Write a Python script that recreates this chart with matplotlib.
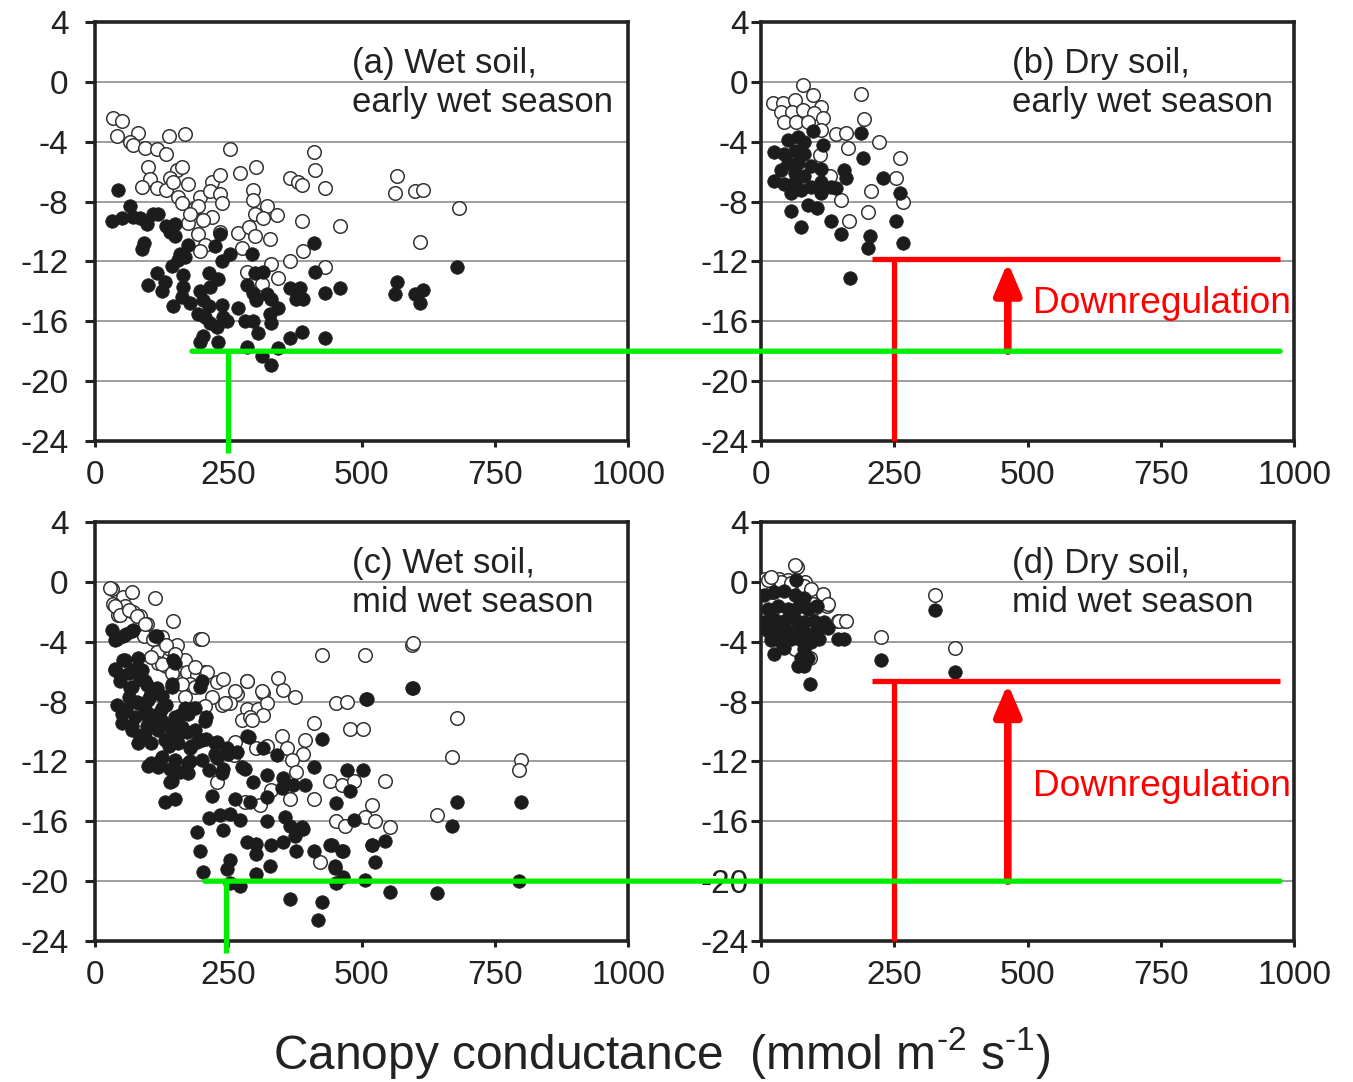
import numpy as np
import matplotlib
matplotlib.use("Agg")
import matplotlib.pyplot as plt
from matplotlib.patches import ConnectionPatch

# ----------------------------
# Data: canopy conductance (x) vs leaf water potential-like quantity (y)
# ----------------------------
a_open_x = [33, 50, 42, 81, 139, 169, 66, 72, 94, 116, 133, 253, 410, 100, 153, 163, 141, 103, 88, 116,
            133, 147, 175, 156, 163, 197, 188, 175, 194, 219, 235, 216, 235, 238, 272, 303, 366, 381, 388, 413,
            431, 297, 297, 300, 322, 341, 316, 388, 460, 194, 206, 197, 235, 269, 288, 300, 328, 275, 391, 366,
            431, 285, 331, 313, 344, 566, 563, 600, 616, 682, 610, 219, 203, 178]
a_open_y = [-2.4, -2.6, -3.6, -3.4, -3.6, -3.5, -4.0, -4.2, -4.4, -4.5, -4.8, -4.5, -4.7, -5.7, -5.9, -5.7, -6.4, -6.5, -7.0, -7.1,
            -7.2, -6.7, -6.8, -7.7, -8.1, -7.7, -8.4, -9.4, -8.3, -6.7, -6.2, -7.3, -7.5, -8.1, -6.1, -5.7, -6.4, -6.7, -6.9, -5.9,
            -7.1, -7.2, -7.9, -8.8, -8.3, -8.9, -9.1, -9.3, -9.6, -10.2, -10.9, -11.3, -10.0, -10.1, -9.7, -10.3, -10.5, -11.1, -11.3, -12.0,
            -12.4, -12.7, -12.2, -13.5, -13.1, -6.3, -7.4, -7.3, -7.2, -8.4, -10.7, -9.0, -9.2, -8.8]
a_fill_x = [44, 66, 31, 50, 72, 84, 97, 109, 119, 134, 150, 141, 150, 91, 88, 175, 159, 156, 169, 144,
            116, 100, 131, 125, 147, 166, 166, 163, 178, 197, 203, 213, 231, 235, 225, 253, 238, 216, 213, 194,
            206, 216, 228, 241, 247, 238, 269, 285, 297, 300, 316, 294, 303, 322, 331, 281, 297, 306, 328, 331,
            344, 366, 385, 378, 391, 410, 413, 431, 460, 388, 366, 431, 203, 197, 231, 285, 344, 313, 331, 566,
            562, 600, 616, 610, 679]
a_fill_y = [-7.2, -8.3, -9.3, -9.1, -9.0, -9.1, -9.5, -8.8, -8.8, -9.6, -9.5, -10.0, -10.3, -10.8, -11.2, -10.9, -11.5, -11.9, -11.7, -12.3,
            -12.8, -13.6, -13.4, -14.0, -15.0, -12.9, -13.7, -14.4, -14.8, -14.0, -14.6, -12.8, -13.2, -10.2, -11.0, -11.5, -12.0, -13.7, -15.0, -15.5,
            -15.7, -16.1, -16.4, -15.7, -16.0, -14.9, -15.1, -13.6, -14.1, -12.8, -12.7, -11.5, -14.6, -14.2, -14.5, -16.0, -16.0, -16.8, -15.5, -16.1,
            -15.1, -13.8, -13.8, -14.5, -14.5, -10.8, -12.7, -14.1, -13.8, -16.7, -17.1, -17.1, -17.0, -17.4, -17.4, -17.7, -17.8, -18.3, -18.9, -13.4,
            -14.2, -14.2, -13.9, -14.8, -12.4]

b_open_x = [78, 97, 188, 22, 41, 63, 113, 38, 59, 78, 100, 44, 66, 88, 116, 194, 113, 141, 159, 163,
            222, 150, 206, 200, 166, 261, 254, 267, 111, 129]
b_open_y = [-0.2, -0.9, -0.8, -1.4, -1.4, -1.2, -1.7, -2.0, -2.0, -1.9, -2.1, -2.7, -2.7, -2.7, -2.4, -2.5, -3.2, -3.5, -3.4, -4.4,
            -4.0, -7.9, -7.3, -8.7, -9.3, -5.1, -6.4, -8.0, -4.9, -6.3]
b_fill_x = [50, 69, 81, 97, 116, 25, 44, 63, 81, 50, 69, 94, 113, 38, 63, 81, 25, 44, 63, 94,
            113, 131, 156, 159, 56, 75, 113, 141, 188, 191, 56, 88, 106, 75, 131, 229, 261, 151, 204, 201,
            254, 267, 167]
b_fill_y = [-3.9, -3.7, -4.0, -3.3, -4.2, -4.7, -4.8, -4.6, -4.8, -5.4, -5.4, -5.6, -5.8, -5.9, -6.1, -6.3, -6.6, -6.8, -6.7, -7.0,
            -6.7, -7.0, -5.9, -6.4, -7.4, -7.2, -7.4, -7.1, -3.4, -5.1, -8.6, -8.2, -8.4, -9.7, -9.3, -6.4, -7.4, -10.2, -10.3, -11.1,
            -9.3, -10.8, -13.1]

c_open_x = [31, 53, 69, 113, 34, 56, 44, 72, 84, 97, 147, 91, 109, 125, 141, 153, 197, 116, 119, 134,
            153, 169, 172, 191, 206, 178, 228, 241, 285, 344, 316, 353, 375, 266, 253, 238, 285, 306, 322, 275,
            291, 316, 410, 425, 507, 594, 453, 472, 478, 503, 350, 394, 360, 391, 369, 263, 303, 322, 378, 441,
            463, 485, 544, 331, 366, 410, 519, 507, 525, 553, 453, 469, 422, 641, 228, 260, 281, 310, 679, 669,
            799, 795, 597,
            28, 38, 47, 63, 78, 94, 200, 134, 150, 125, 188, 210, 144, 163, 188, 285, 263, 313, 219, 244,
            294, 206, 169, 106]
c_open_y = [-0.5, -1.0, -0.7, -1.1, -1.5, -1.6, -2.2, -2.0, -2.3, -2.8, -2.6, -3.6, -3.8, -3.7, -4.5, -4.2, -3.8, -4.7, -5.4, -5.6,
            -5.8, -5.2, -6.0, -6.2, -6.0, -6.8, -6.7, -6.5, -6.6, -6.4, -7.4, -7.2, -7.7, -7.5, -8.1, -8.2, -8.5, -8.5, -8.1, -9.2,
            -9.0, -8.9, -9.4, -4.9, -4.9, -4.2, -8.1, -8.0, -9.8, -9.8, -10.3, -10.6, -11.1, -11.5, -11.9, -10.7, -11.1, -11.0, -12.7, -13.3,
            -13.6, -13.3, -13.3, -13.9, -14.5, -14.5, -14.9, -15.7, -16.0, -16.4, -16.0, -16.3, -18.7, -15.6, -13.4, -11.6, -14.7, -14.9, -9.1, -11.7,
            -11.9, -12.6, -4.1,
            -0.4, -1.6, -2.2, -1.9, -2.3, -2.8, -3.8, -4.2, -4.8, -5.5, -5.7, -6.0, -6.1, -6.8, -7.0, -6.6, -7.3, -7.3, -7.7, -8.1,
            -9.2, -8.3, -7.7, -5.0]
c_fill_x = [31, 41, 53, 72, 116, 37, 47, 53, 75, 84, 97, 66, 103, 116, 41, 59, 78, 94, 106, 122,
            134, 144, 147, 125, 50, 69, 84, 97, 116, 141, 159, 178, 197, 209, 153, 172, 191, 178, 209, 228,
            247, 266, 228, 241, 100, 122, 141, 159, 178, 141, 131, 150, 219, 263, 285, 281, 297, 291, 322, 322,
            353, 372, 394, 350, 341, 316, 410, 425, 472, 503, 478, 453, 485, 510, 594, 213, 234, 253, 272, 241,
            191, 197, 203, 253, 247, 285, 303, 303, 303, 331, 353, 328, 272, 375, 388, 378, 410, 441, 466, 450,
            453, 507, 519, 544, 525, 553, 641, 366, 425, 419, 253, 322, 356, 366, 391, 597, 508, 679, 799, 669,
            444, 463, 519, 450, 466, 795,
            38, 59, 69, 113, 56, 81, 38, 63, 88, 47, 69, 94, 106, 63, 81, 100, 125, 144, 150, 50,
            75, 100, 125, 150, 175, 188, 69, 94, 119, 144, 163, 188, 206, 81, 106, 131, 156, 181, 200, 225,
            106, 125, 150, 175, 200, 225, 250, 144, 175, 213, 238, 200, 169, 138, 119, 288, 275]
c_fill_y = [-3.2, -3.8, -3.6, -3.2, -3.6, -5.8, -6.2, -5.2, -5.8, -6.5, -6.9, -7.1, -7.6, -7.1, -8.2, -8.5, -8.0, -8.5, -8.9, -8.7,
            -8.2, -6.8, -5.2, -7.6, -9.4, -9.6, -10.3, -9.6, -9.4, -9.6, -8.9, -8.5, -7.0, -9.0, -10.3, -10.0, -10.7, -11.1, -10.5, -10.7,
            -11.1, -11.4, -11.8, -12.5, -12.3, -12.0, -12.5, -12.7, -12.0, -13.4, -14.7, -14.5, -14.3, -14.5, -10.3, -12.5, -13.4, -14.7, -14.4, -12.9,
            -13.1, -13.6, -13.6, -13.8, -11.6, -11.1, -12.4, -10.5, -12.6, -12.6, -14.0, -14.8, -15.9, -7.8, -7.1, -15.8, -15.6, -15.5, -15.9, -16.6,
            -16.7, -18.0, -19.4, -18.6, -19.2, -17.4, -17.5, -18.2, -19.5, -17.6, -17.4, -19.0, -20.3, -17.0, -16.4, -18.0, -18.0, -17.6, -18.0, -19.0,
            -20.1, -19.9, -17.6, -17.3, -18.7, -20.7, -20.8, -21.2, -21.4, -22.6, -20.1, -16.0, -15.7, -16.3, -16.5, -7.1, -7.8, -14.7, -14.7, -16.3,
            -17.6, -18.0, -17.6, -19.1, -19.7, -20.0,
            -3.9, -3.5, -3.3, -3.6, -5.2, -5.1, -5.9, -6.1, -5.9, -6.6, -7.0, -6.6, -7.5, -7.7, -8.1, -7.9, -8.4, -7.0, -5.4, -8.8,
            -9.0, -9.0, -9.3, -9.0, -8.8, -8.4, -9.9, -10.1, -9.9, -10.1, -9.7, -9.9, -9.3, -10.8, -10.8, -10.6, -10.8, -11.0, -10.6, -10.8,
            -12.1, -11.7, -11.9, -12.1, -11.9, -11.5, -11.5, -13.3, -12.8, -12.6, -12.8, -6.6, -8.4, -11.0, -12.4, -10.4, -12.4]

d_open_x = [67, 8, 33, 51, 83, 117, 123, 98, 145, 158, 226, 326, 364, 92, 64, 3, 20, 89,
            63, 13, 38, 56, 81, 94, 116, 125, 103, 147, 159, 19]
d_open_y = [1.0, 0.2, 0.2, 0.1, 0.0, -0.9, -1.6, -1.5, -2.6, -2.6, -3.7, -0.9, -4.4, -5.1, -4.5, -0.2, -0.7, -0.5,
            1.1, 0.1, 0.0, -0.1, -0.3, -0.5, -0.8, -1.5, -1.7, -2.6, -2.6, 0.3]
d_fill_x = [6, 25, 44, 63, 81, 66, 13, 31, 50, 69, 88, 106, 6, 25, 44, 63, 81, 100, 119, 13,
            31, 50, 69, 88, 106, 125, 19, 38, 56, 75, 94, 109, 144, 156, 25, 44, 81, 75, 88, 69,
            81, 92, 226, 326, 364]
d_fill_y = [-0.9, -0.7, -0.6, -0.9, -1.1, 0.1, -1.8, -1.6, -1.8, -1.7, -1.8, -1.6, -2.7, -2.5, -2.6, -2.5, -2.7, -2.6, -2.7, -3.3,
            -3.2, -3.3, -3.2, -3.5, -3.3, -3.1, -3.9, -4.0, -3.8, -3.9, -4.0, -3.8, -3.8, -3.8, -4.8, -4.4, -4.5, -5.1, -5.1, -5.6,
            -5.6, -6.8, -5.2, -1.9, -6.0]

panel_labels = ["(a) Wet soil,\nearly wet season", "(b) Dry soil,\nearly wet season",
                "(c) Wet soil,\nmid wet season", "(d) Dry soil,\nmid wet season"]

x_ticks = [0, 250, 500, 750, 1000]
y_ticks = [4, 0, -4, -8, -12, -16, -20, -24]

# reference levels used for the overlay (green = wet soil min, red = dry soil min)
green_top, red_top = -18.0, -11.85
green_bot, red_bot = -20.0, -6.6

# ----------------------------
# Style
# ----------------------------
plt.rcParams.update({
    "font.family": ["Liberation Sans", "DejaVu Sans"],
    "font.size": 24,
    "text.color": "#222222",
    "xtick.color": "#222222",
    "ytick.color": "#222222",
    "axes.unicode_minus": False,
    "mathtext.fontset": "custom",
    "mathtext.rm": "Liberation Sans",
    "mathtext.it": "Liberation Sans:italic",
    "mathtext.bf": "Liberation Sans:bold",
})

fig = plt.figure(figsize=(13.53, 10.82), dpi=100)

W, H = 1353.0, 1082.0
def box(l, r, t, b):
    return [l / W, 1 - b / H, (r - l) / W, (b - t) / H]

ax_a = fig.add_axes(box(95, 628, 22, 441))
ax_b = fig.add_axes(box(761, 1294, 22, 441))
ax_c = fig.add_axes(box(95, 628, 522, 941))
ax_d = fig.add_axes(box(761, 1294, 522, 941))

panels = [
    (ax_a, a_open_x, a_open_y, a_fill_x, a_fill_y, 12),
    (ax_b, b_open_x, b_open_y, b_fill_x, b_fill_y, 2),
    (ax_c, c_open_x, c_open_y, c_fill_x, c_fill_y, 12),
    (ax_d, d_open_x, d_open_y, d_fill_x, d_fill_y, 2),
]

for (ax, ox, oy, fx, fy, ypad), label in zip(panels, panel_labels):
    ax.scatter(ox, oy, s=95, facecolors="white", edgecolors="#333333", linewidths=1.1, zorder=3)
    ax.scatter(fx, fy, s=95, facecolors="#1c1c1c", edgecolors="#1c1c1c", linewidths=0.5, zorder=4)

    ax.set_xlim(0, 1000)
    ax.set_ylim(-24, 4)
    ax.set_xticks(x_ticks)
    ax.set_yticks(y_ticks)
    ax.yaxis.grid(True, color="#8c8c8c", linewidth=1.2)
    ax.set_axisbelow(True)

    for s in ax.spines.values():
        s.set_linewidth(2.6)
        s.set_color("#222222")

    ax.tick_params(axis="y", direction="out", length=7, width=2.2, pad=ypad, labelsize=24)
    ax.tick_params(axis="x", direction="out", length=4, width=2.2, pad=10, labelsize=24)

    ax.text(0.482 if ax in (ax_a, ax_c) else 0.471, 0.94, label,
            transform=ax.transAxes, ha="left", va="top",
            fontsize=25, linespacing=1.24)

# ----------------------------
# Overlay: green (wet soil) and red (dry soil) levels
# ----------------------------
GREEN = "#00ee00"
RED = "#ff0000"

for axL, axR, gy, ry, gx_start, gx_vert in [(ax_a, ax_b, green_top, red_top, 182, 250),
                                            (ax_c, ax_d, green_bot, red_bot, 206, 246)]:
    con = ConnectionPatch(xyA=(gx_start, gy), coordsA="data", axesA=axL,
                          xyB=(974, gy), coordsB="data", axesB=axR,
                          color=GREEN, linewidth=3.8, zorder=10)
    fig.add_artist(con)
    axL.plot([gx_vert, gx_vert], [gy, -24.8], color=GREEN, linewidth=3.8,
             clip_on=False, zorder=10, solid_capstyle="butt")

    axR.plot([208, 974], [ry, ry], color=RED, linewidth=3.8, zorder=11, clip_on=False,
             solid_capstyle="butt")
    axR.plot([250, 250], [ry, -24], color=RED, linewidth=3.8, zorder=11, clip_on=False,
             solid_capstyle="butt")

    axR.annotate("", xy=(463, ry - 0.2), xytext=(463, gy),
                 arrowprops=dict(arrowstyle="-|>,head_width=0.32,head_length=0.75",
                                 color=RED, lw=5.5, mutation_scale=25,
                                 shrinkA=0, shrinkB=0),
                 zorder=12, annotation_clip=False)

ax_b.text(510, -14.8, "Downregulation", color=RED, fontsize=26.7,
          ha="left", va="center", zorder=12)
ax_d.text(510, -13.7, "Downregulation", color=RED, fontsize=26.7,
          ha="left", va="center", zorder=12)

fig.text(0.489, 0.027, r"Canopy conductance  (mmol m$^{\text{-2}}$ s$^{\text{-1}}$)",
         ha="center", va="center", fontsize=34.5)

fig.savefig("out.png", dpi=100)
